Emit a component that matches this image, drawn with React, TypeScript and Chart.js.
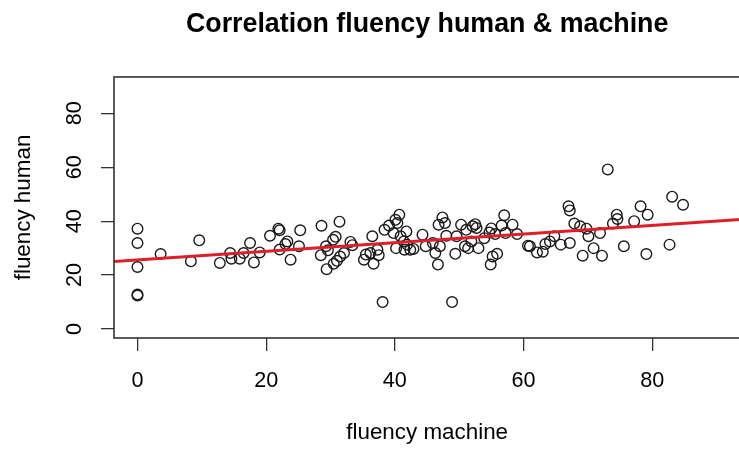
import React, { useEffect, useRef } from "react";
import { Chart, registerables } from "chart.js";

Chart.register(...registerables);

const fluencyMachine: number[] = [
  0, 0, 0, 0, 0, 3.6, 8.3, 9.6, 12.8, 14.4, 14.6, 15.9, 16.5, 17.5, 18.1, 19,
  20.6, 21.9, 22.1, 22.1, 23, 23.3, 23.8, 25.1, 25.3, 28.6, 28.5, 29.3, 29.4,
  29.6, 30.4, 30.5, 30.8, 31, 31.4, 31.5, 32.1, 33.1, 33.4, 35.2, 35.5, 36.2,
  36.5, 36.7, 37.3, 37.5, 38.1, 38.4, 39.1, 39.8, 40.1, 40.4, 40.7, 40.2, 40.9,
  41.4, 41.8, 41.5, 41.9, 42.4, 42.9, 44.3, 44.8, 45.9, 46.3, 46.7, 46.8, 47,
  47.4, 47.8, 48, 48.9, 49.4, 49.6, 50.3, 50.9, 51.1, 51.4, 51.9, 52.1, 52.5,
  52.7, 53, 53.9, 54.7, 54.9, 55, 55.2, 55.6, 55.9, 56.6, 57, 57.2, 58.3, 59,
  60.7, 61, 62.1, 63, 63.4, 64.1, 64.8, 65.8, 67, 67.2, 67.2, 67.9, 68.8, 69.2,
  69.8, 70.1, 70.9, 71.9, 72.2, 73.1, 73.9, 74.5, 74.6, 75.6, 77.2, 78.2, 79.1,
  79.3, 82.7, 83.1, 84.8,
];

const fluencyHuman: number[] = [
  37.2, 31.9, 23, 12.4, 12.8, 27.8, 25.1, 32.9, 24.5, 28.2, 26.1, 26.1, 28.2,
  31.9, 24.7, 28.4, 34.6, 37.2, 36.6, 29.5, 31.5, 32.5, 25.7, 30.7, 36.6, 38.3,
  27.4, 30.7, 22.2, 29.2, 33.1, 24.2, 34.2, 25.3, 39.8, 26.9, 28.2, 32.3, 31.1,
  25.7, 27.6, 28.2, 34.4, 24.2, 29.4, 27.4, 10, 36.8, 38.4, 35.6, 40.5, 39.3,
  42.4, 30, 34.4, 32.5, 36.2, 29.4, 31.3, 29.4, 29.7, 35, 30.7, 31.9, 28.2,
  23.9, 38.7, 30.7, 41.4, 39.3, 34.6, 10, 27.9, 34.4, 38.7, 30.7, 36.8, 30,
  32.5, 38.1, 38.9, 37.5, 30, 33.7, 35.8, 23.9, 37.3, 26.9, 35.2, 27.9, 38.4,
  42.2, 35.6, 38.7, 35.2, 30.9, 30.7, 28.4, 28.7, 31.5, 32.5, 34.4, 31.3, 45.5,
  44, 31.9, 39.1, 38.1, 27.2, 37.2, 34.4, 30, 35.6, 27.2, 59.2, 39.1, 42.4,
  40.8, 30.7, 40, 45.5, 27.8, 42.4, 31.3, 49.1, 46.1,
];

// fitted regression line (intercept, slope)
const fitIntercept = 25.6;
const fitSlope = 0.16;
const fitX: number[] = [-3.65, 93.7];

const xTicks: number[] = [0, 20, 40, 60, 80];
const yTicks: number[] = [0, 20, 40, 60, 80];

const FONT = "'Liberation Sans', Arial, Helvetica, sans-serif";

const boxPlugin = {
  id: "rbox",
  afterDatasetsDraw(chart: any) {
    const { ctx, chartArea } = chart;
    ctx.save();
    ctx.strokeStyle = "#333";
    ctx.lineWidth = 1.6;
    ctx.strokeRect(chartArea.left, chartArea.top, chartArea.right - chartArea.left, chartArea.bottom - chartArea.top);
    ctx.restore();
  },
};

export default function App() {
  const ref = useRef<HTMLCanvasElement | null>(null);

  useEffect(() => {
    if (!ref.current) return;
    const points = fluencyMachine.map((x, i) => ({ x, y: fluencyHuman[i] }));
    const line = fitX.map((x) => ({ x, y: fitIntercept + fitSlope * x }));
    const chart = new Chart(ref.current, {
      type: "scatter",
      data: {
        datasets: [
          {
            label: "points",
            data: points,
            pointStyle: "circle",
            pointRadius: 5.3,
            pointBorderWidth: 1.4,
            pointBorderColor: "#1a1a1a",
            pointBackgroundColor: "rgba(0,0,0,0)",
            order: 2,
          },
          {
            type: "line",
            label: "fit",
            data: line,
            borderColor: "#dc1f2b",
            borderWidth: 3,
            pointRadius: 0,
            fill: false,
            order: 1,
          } as any,
        ],
      },
      options: {
        responsive: false,
        animation: false,
        events: [],
        layout: { padding: { left: 0, right: 0, top: 0, bottom: 0 } },
        plugins: {
          legend: { display: false },
          tooltip: { enabled: false },
          title: {
            display: true,
            text: "Correlation fluency human & machine",
            fullSize: false,
            color: "#000",
            font: { family: FONT, size: 26.8, weight: "bold", lineHeight: 1.2 },
            padding: { top: 8.5, bottom: 36.3 },
          },
        },
        scales: {
          x: {
            type: "linear",
            min: -3.65,
            max: 93.7,
            afterBuildTicks: (s: any) => {
              s.ticks = xTicks.map((v) => ({ value: v }));
            },
            afterFit: (s: any) => {
              s.height = 450 - 338;
            },
            grid: {
              display: true,
              drawOnChartArea: false,
              drawTicks: true,
              tickLength: 13,
              color: "#333",
              lineWidth: 1.3,
            },
            border: { display: false },
            ticks: {
              color: "#000",
              font: { family: FONT, size: 21.6 },
              padding: 17,
              maxRotation: 0,
              minRotation: 0,
            },
            title: {
              display: true,
              text: "fluency machine",
              color: "#000",
              font: { family: FONT, size: 22.4 },
              padding: { top: 0, bottom: 4 },
            },
          },
          y: {
            type: "linear",
            min: -3.34,
            max: 93.5,
            afterBuildTicks: (s: any) => {
              s.ticks = yTicks.map((v) => ({ value: v }));
            },
            afterFit: (s: any) => {
              s.width = 114;
            },
            grid: {
              display: true,
              drawOnChartArea: false,
              drawTicks: true,
              tickLength: 13,
              color: "#333",
              lineWidth: 1.3,
            },
            border: { display: false },
            ticks: {
              color: "#000",
              font: { family: FONT, size: 21.6 },
              padding: 14,
              crossAlign: "center",
              minRotation: 90,
              maxRotation: 90,
            },
            title: {
              display: true,
              text: "fluency human",
              color: "#000",
              font: { family: FONT, size: 22.4 },
              padding: { top: 10, bottom: 0 },
            },
          },
        },
      },
      plugins: [boxPlugin],
    });
    return () => chart.destroy();
  }, []);

  return (
    <div style={{ position: "fixed", left: 0, top: 0, width: 739, height: 450, overflow: "hidden", background: "#fff" }}>
      <canvas ref={ref} width={747} height={450} style={{ display: "block", width: 747, height: 450 }} />
    </div>
  );
}
